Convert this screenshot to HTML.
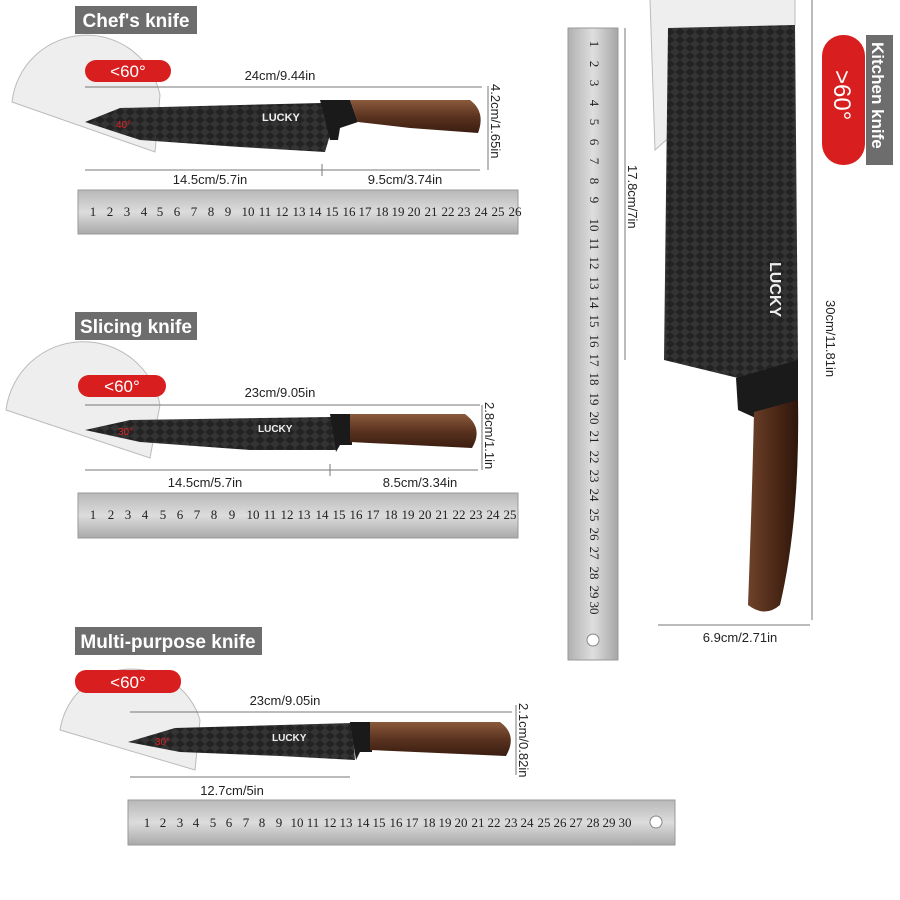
<!DOCTYPE html>
<html><head><meta charset="utf-8"><style>
html,body{margin:0;padding:0;background:#fff}
svg{display:block}
text{font-family:"Liberation Sans",sans-serif}
.r text{font-family:"Liberation Serif",serif;font-size:13px;fill:#222}
.d{font-size:13px;fill:#222}
</style></head><body>
<svg width="900" height="900" viewBox="0 0 900 900" xmlns="http://www.w3.org/2000/svg">
<defs>
<linearGradient id="steel" x1="0" y1="0" x2="0" y2="1"><stop offset="0" stop-color="#b8b8b8"/><stop offset=".5" stop-color="#dcdcdc"/><stop offset="1" stop-color="#a9a9a9"/></linearGradient>
<linearGradient id="steelv" x1="0" y1="0" x2="1" y2="0"><stop offset="0" stop-color="#b0b0b0"/><stop offset=".5" stop-color="#dedede"/><stop offset="1" stop-color="#a5a5a5"/></linearGradient>
<linearGradient id="wood" x1="0" y1="0" x2="0" y2="1"><stop offset="0" stop-color="#8a5a3c"/><stop offset=".5" stop-color="#5b3320"/><stop offset="1" stop-color="#3a1d10"/></linearGradient>
<linearGradient id="woodv" x1="0" y1="0" x2="1" y2="0"><stop offset="0" stop-color="#6e422a"/><stop offset=".5" stop-color="#4f2a18"/><stop offset="1" stop-color="#2e160b"/></linearGradient>
<pattern id="dia" width="10" height="8" patternUnits="userSpaceOnUse"><rect width="10" height="8" fill="#232323"/><path d="M0 4L5 0L10 4L5 8Z" fill="#343434"/></pattern>
</defs>

<!-- Chef's knife -->
<rect x="75" y="6" width="122" height="28" fill="#6d6d6d"/>
<text x="136" y="27" text-anchor="middle" font-size="19" font-weight="bold" fill="#fff">Chef's knife</text>
<path d="M12 102 A75 75 0 0 1 160 95 L155 152 Z" fill="#eee" stroke="#bbb"/>
<rect x="85" y="60" width="86" height="22" rx="11" fill="#d81e1e"/>
<text x="128" y="77" text-anchor="middle" font-size="17" fill="#fff">&lt;60°</text>
<text x="280" y="80" text-anchor="middle" class="d" font-size="14">24cm/9.44in</text>
<line x1="85" y1="87" x2="482" y2="87" stroke="#777"/>
<path d="M85 122 L120 108 L322 103 L330 135 L325 152 L240 147 L140 140 Z" fill="url(#dia)"/>
<path d="M320 100 L350 100 L358 122 L340 128 L338 140 L330 140 Z" fill="#1a1a1a"/>
<path d="M350 100 L470 100 Q486 112 478 133 L410 128 L358 122 Z" fill="url(#wood)"/>
<text x="262" y="121" font-size="11" fill="#eee" font-weight="bold">LUCKY</text>
<text x="116" y="128" font-size="10" fill="#d22">40°</text>
<line x1="488" y1="86" x2="488" y2="170" stroke="#777"/>
<text transform="translate(491,84) rotate(90)" class="d">4.2cm/1.65in</text>
<line x1="85" y1="170" x2="480" y2="170" stroke="#777"/>
<line x1="322" y1="164" x2="322" y2="176" stroke="#777"/>
<text x="210" y="184" text-anchor="middle" class="d">14.5cm/5.7in</text>
<text x="405" y="184" text-anchor="middle" class="d">9.5cm/3.74in</text>
<rect x="78" y="190" width="440" height="44" fill="url(#steel)" stroke="#999"/>
<g class="r" text-anchor="middle">
<text x="93" y="216">1</text><text x="110" y="216">2</text><text x="127" y="216">3</text><text x="144" y="216">4</text><text x="160" y="216">5</text><text x="177" y="216">6</text><text x="194" y="216">7</text><text x="211" y="216">8</text><text x="228" y="216">9</text><text x="248" y="216">10</text><text x="265" y="216">11</text><text x="282" y="216">12</text><text x="299" y="216">13</text><text x="315" y="216">14</text><text x="332" y="216">15</text><text x="349" y="216">16</text><text x="365" y="216">17</text><text x="382" y="216">18</text><text x="398" y="216">19</text><text x="414" y="216">20</text><text x="431" y="216">21</text><text x="448" y="216">22</text><text x="464" y="216">23</text><text x="481" y="216">24</text><text x="498" y="216">25</text><text x="515" y="216">26</text>
</g>

<!-- Slicing knife -->
<rect x="75" y="312" width="122" height="28" fill="#6d6d6d"/>
<text x="136" y="333" text-anchor="middle" font-size="19" font-weight="bold" fill="#fff">Slicing knife</text>
<path d="M6 410 A78 78 0 0 1 160 405 L150 458 Z" fill="#eee" stroke="#bbb"/>
<rect x="78" y="375" width="88" height="22" rx="11" fill="#d81e1e"/>
<text x="122" y="392" text-anchor="middle" font-size="17" fill="#fff">&lt;60°</text>
<text x="280" y="397" text-anchor="middle" class="d" font-size="14">23cm/9.05in</text>
<line x1="85" y1="405" x2="480" y2="405" stroke="#777"/>
<path d="M85 430 L130 420 L332 417 L336 450 L250 450 L140 442 Z" fill="url(#dia)"/>
<path d="M330 414 L352 414 L352 445 L340 445 L336 452 Z" fill="#1a1a1a"/>
<path d="M350 414 L465 414 Q484 428 472 448 L350 442 Z" fill="url(#wood)"/>
<text x="258" y="432" font-size="10" fill="#eee" font-weight="bold">LUCKY</text>
<text x="118" y="435" font-size="10" fill="#d22">30°</text>
<line x1="482" y1="405" x2="482" y2="470" stroke="#777"/>
<text transform="translate(485,402) rotate(90)" class="d">2.8cm/1.1in</text>
<line x1="85" y1="470" x2="478" y2="470" stroke="#777"/>
<line x1="330" y1="464" x2="330" y2="476" stroke="#777"/>
<text x="205" y="487" text-anchor="middle" class="d">14.5cm/5.7in</text>
<text x="420" y="487" text-anchor="middle" class="d">8.5cm/3.34in</text>
<rect x="78" y="493" width="440" height="45" fill="url(#steel)" stroke="#999"/>
<g class="r" text-anchor="middle">
<text x="93" y="519">1</text><text x="111" y="519">2</text><text x="128" y="519">3</text><text x="145" y="519">4</text><text x="163" y="519">5</text><text x="180" y="519">6</text><text x="197" y="519">7</text><text x="214" y="519">8</text><text x="232" y="519">9</text><text x="253" y="519">10</text><text x="270" y="519">11</text><text x="287" y="519">12</text><text x="304" y="519">13</text><text x="322" y="519">14</text><text x="339" y="519">15</text><text x="356" y="519">16</text><text x="373" y="519">17</text><text x="391" y="519">18</text><text x="408" y="519">19</text><text x="425" y="519">20</text><text x="442" y="519">21</text><text x="459" y="519">22</text><text x="476" y="519">23</text><text x="493" y="519">24</text><text x="510" y="519">25</text>
</g>

<!-- Multi-purpose knife -->
<rect x="75" y="627" width="187" height="28" fill="#6d6d6d"/>
<text x="168" y="648" text-anchor="middle" font-size="19" font-weight="bold" fill="#fff">Multi-purpose knife</text>
<path d="M60 730 A72 72 0 0 1 200 720 L195 770 Z" fill="#eee" stroke="#bbb"/>
<rect x="75" y="670" width="106" height="23" rx="11" fill="#d81e1e"/>
<text x="128" y="688" text-anchor="middle" font-size="17" fill="#fff">&lt;60°</text>
<text x="285" y="705" text-anchor="middle" class="d" font-size="14">23cm/9.05in</text>
<line x1="130" y1="712" x2="512" y2="712" stroke="#777"/>
<path d="M128 742 L175 728 L352 723 L355 760 L280 756 L180 752 Z" fill="url(#dia)"/>
<path d="M350 722 L372 722 L372 752 L360 752 L356 760 Z" fill="#1a1a1a"/>
<path d="M370 722 L500 722 Q518 735 506 756 L370 750 Z" fill="url(#wood)"/>
<text x="272" y="741" font-size="10" fill="#eee" font-weight="bold">LUCKY</text>
<text x="155" y="745" font-size="10" fill="#d22">30°</text>
<line x1="516" y1="705" x2="516" y2="775" stroke="#777"/>
<text transform="translate(519,703) rotate(90)" class="d">2.1cm/0.82in</text>
<line x1="130" y1="777" x2="350" y2="777" stroke="#777"/>
<text x="232" y="795" text-anchor="middle" class="d">12.7cm/5in</text>
<rect x="128" y="800" width="547" height="45" fill="url(#steel)" stroke="#999"/>
<circle cx="656" cy="822" r="6" fill="#fff" stroke="#888"/>
<g class="r" text-anchor="middle">
<text x="147" y="827">1</text><text x="163" y="827">2</text><text x="180" y="827">3</text><text x="196" y="827">4</text><text x="213" y="827">5</text><text x="229" y="827">6</text><text x="246" y="827">7</text><text x="262" y="827">8</text><text x="279" y="827">9</text><text x="297" y="827">10</text><text x="313" y="827">11</text><text x="330" y="827">12</text><text x="346" y="827">13</text><text x="363" y="827">14</text><text x="379" y="827">15</text><text x="396" y="827">16</text><text x="412" y="827">17</text><text x="429" y="827">18</text><text x="445" y="827">19</text><text x="461" y="827">20</text><text x="478" y="827">21</text><text x="494" y="827">22</text><text x="511" y="827">23</text><text x="527" y="827">24</text><text x="544" y="827">25</text><text x="560" y="827">26</text><text x="576" y="827">27</text><text x="593" y="827">28</text><text x="609" y="827">29</text><text x="625" y="827">30</text>
</g>

<!-- Vertical ruler -->
<rect x="568" y="28" width="50" height="632" fill="url(#steelv)" stroke="#999"/>
<circle cx="593" cy="640" r="6" fill="#fff" stroke="#888"/>
<g class="r" text-anchor="middle">
<text transform="translate(590,44) rotate(90)">1</text><text transform="translate(590,64) rotate(90)">2</text><text transform="translate(590,83) rotate(90)">3</text><text transform="translate(590,103) rotate(90)">4</text><text transform="translate(590,122) rotate(90)">5</text><text transform="translate(590,142) rotate(90)">6</text><text transform="translate(590,161) rotate(90)">7</text><text transform="translate(590,181) rotate(90)">8</text><text transform="translate(590,200) rotate(90)">9</text><text transform="translate(590,225) rotate(90)">10</text><text transform="translate(590,244) rotate(90)">11</text><text transform="translate(590,263) rotate(90)">12</text><text transform="translate(590,283) rotate(90)">13</text><text transform="translate(590,302) rotate(90)">14</text><text transform="translate(590,321) rotate(90)">15</text><text transform="translate(590,341) rotate(90)">16</text><text transform="translate(590,360) rotate(90)">17</text><text transform="translate(590,379) rotate(90)">18</text><text transform="translate(590,399) rotate(90)">19</text><text transform="translate(590,418) rotate(90)">20</text><text transform="translate(590,437) rotate(90)">21</text><text transform="translate(590,457) rotate(90)">22</text><text transform="translate(590,476) rotate(90)">23</text><text transform="translate(590,495) rotate(90)">24</text><text transform="translate(590,515) rotate(90)">25</text><text transform="translate(590,534) rotate(90)">26</text><text transform="translate(590,553) rotate(90)">27</text><text transform="translate(590,573) rotate(90)">28</text><text transform="translate(590,592) rotate(90)">29</text><text transform="translate(590,608) rotate(90)">30</text>
</g>
<line x1="625" y1="28" x2="625" y2="360" stroke="#777"/>
<text transform="translate(628,165) rotate(90)" class="d">17.8cm/7in</text>

<!-- Cleaver -->
<path d="M650 0 A80 80 0 0 1 795 0 L795 25 L655 150 Z" fill="#eee" stroke="#bbb"/>
<path d="M668 28 L795 25 L798 362 L738 378 L664 360 Z" fill="url(#dia)"/>
<text transform="translate(770,262) rotate(90)" font-size="16" fill="#eee" font-weight="bold">LUCKY</text>
<path d="M736 378 L798 360 L798 408 L760 420 L738 410 Z" fill="#1a1a1a"/>
<path d="M754 412 L798 400 Q800 520 780 605 Q765 618 748 605 Q752 500 754 412 Z" fill="url(#woodv)"/>
<line x1="812" y1="0" x2="812" y2="620" stroke="#777"/>
<text transform="translate(826,300) rotate(90)" class="d">30cm/11.81in</text>
<line x1="658" y1="625" x2="810" y2="625" stroke="#777"/>
<text x="740" y="642" text-anchor="middle" class="d">6.9cm/2.71in</text>
<rect x="822" y="35" width="43" height="130" rx="21" fill="#d81e1e"/>
<text transform="translate(834,70) rotate(90)" font-size="24" fill="#fff">&gt;60°</text>
<rect x="866" y="35" width="27" height="130" fill="#6d6d6d"/>
<text transform="translate(872,42) rotate(90)" font-size="17" font-weight="bold" fill="#fff">Kitchen knife</text>
</svg>
</body></html>
